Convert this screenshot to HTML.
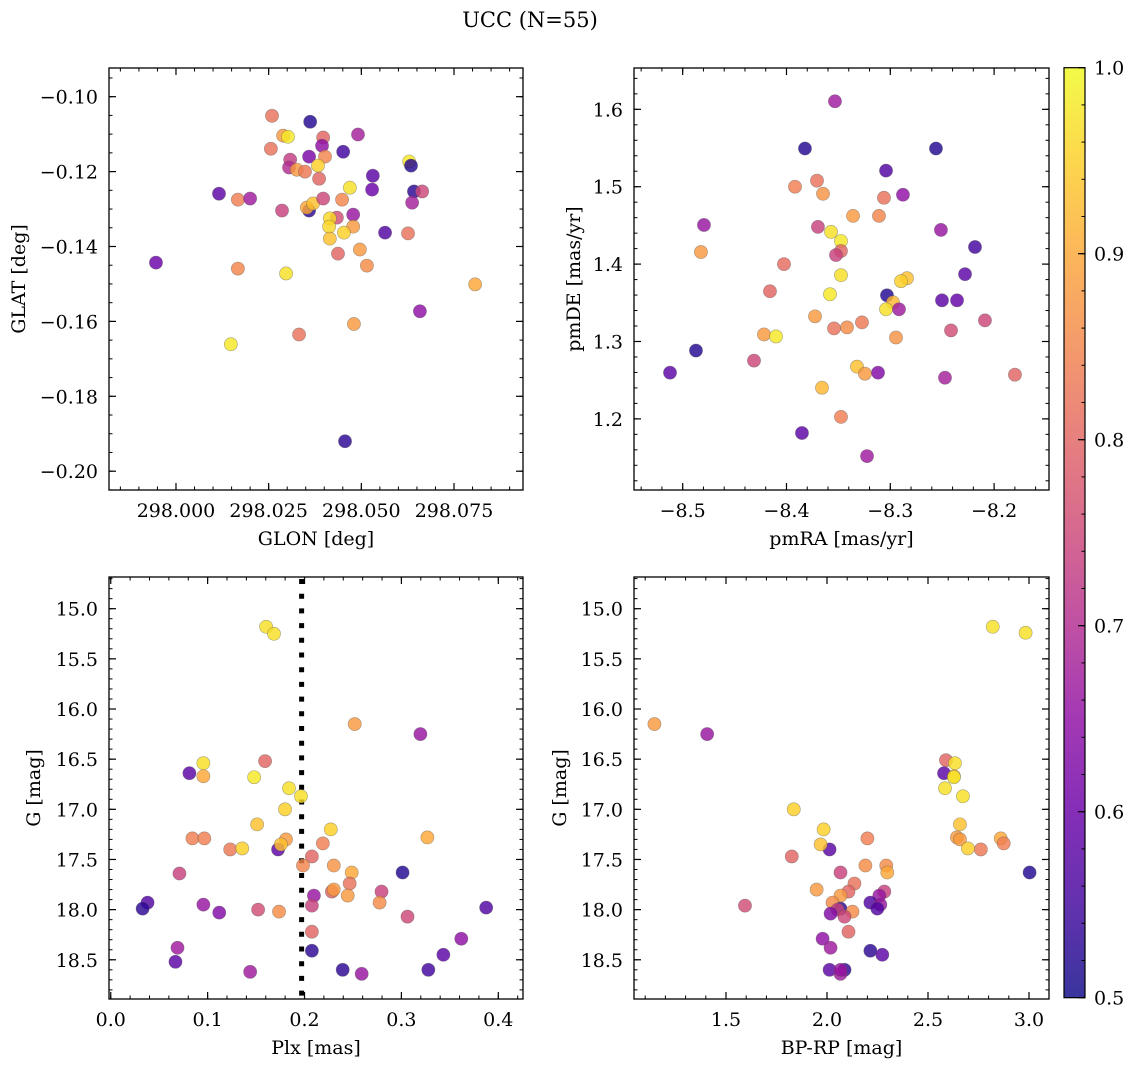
<!DOCTYPE html>
<html><head><meta charset="utf-8"><style>
html,body{margin:0;padding:0;background:#fff;}
svg{display:block;font-family:"DejaVu Serif","Liberation Serif",serif;}
</style></head><body>
<svg id="fig" width="1136" height="1067" viewBox="0 0 1136 1067" xmlns="http://www.w3.org/2000/svg">
<text x="530" y="27" font-size="21" text-anchor="middle">UCC (N=55)</text>
</svg>
<script>
// Panel 1: GLON vs GLAT
const glonVals=[298.0259,298.0362,298.0289,298.0302,298.0397,298.0491,298.0394,298.0451,298.0256,298.0308,298.0359,298.0402,298.0383,298.0305,298.0326,298.0348,298.0386,298.0469,298.0531,298.0529,298.0629,298.0634,298.0642,298.0664,298.0637,298.0116,298.0167,298.0200,298.0286,298.0359,298.0353,298.0370,298.0397,298.0448,298.0434,298.0478,298.0415,298.0413,298.0478,298.0453,298.0415,298.0564,298.0626,298.0437,298.0496,298.0515,297.9946,298.0167,298.0297,298.0807,298.0658,298.0480,298.0332,298.0148,298.0456];
const glatVals=[-0.1051,-0.1067,-0.1104,-0.1107,-0.1109,-0.1101,-0.1131,-0.1147,-0.1139,-0.1168,-0.1160,-0.1160,-0.1184,-0.1189,-0.1195,-0.1200,-0.1219,-0.1243,-0.1211,-0.1248,-0.1173,-0.1184,-0.1253,-0.1253,-0.1283,-0.1259,-0.1275,-0.1272,-0.1304,-0.1304,-0.1296,-0.1285,-0.1272,-0.1275,-0.1323,-0.1315,-0.1325,-0.1347,-0.1347,-0.1363,-0.1379,-0.1363,-0.1365,-0.1419,-0.1408,-0.1451,-0.1443,-0.1459,-0.1472,-0.1501,-0.1573,-0.1607,-0.1635,-0.1661,-0.1920];
const probP1=[0.82,0.52,0.88,0.98,0.8,0.68,0.65,0.55,0.82,0.73,0.62,0.85,0.95,0.7,0.88,0.83,0.8,0.97,0.58,0.6,0.98,0.52,0.53,0.75,0.68,0.58,0.84,0.67,0.74,0.53,0.9,0.93,0.75,0.85,0.76,0.66,0.96,0.96,0.88,0.95,0.93,0.57,0.82,0.8,0.88,0.86,0.6,0.85,0.97,0.9,0.65,0.88,0.82,0.98,0.53];
// Panel 2: pmRA vs pmDE
const pmraVals=[-8.3533,-8.3822,-8.2560,-8.3041,-8.3706,-8.3918,-8.3648,-8.3061,-8.2878,-8.3359,-8.3109,-8.4795,-8.3697,-8.3571,-8.3475,-8.3475,-8.3523,-8.2512,-8.2184,-8.4824,-8.4024,-8.3475,-8.2839,-8.2897,-8.2280,-8.4159,-8.3581,-8.3032,-8.2974,-8.3041,-8.2916,-8.2502,-8.2357,-8.3725,-8.3273,-8.2088,-8.3542,-8.3417,-8.2415,-8.4217,-8.4101,-8.2945,-8.4872,-8.4313,-8.5122,-8.3321,-8.3244,-8.3118,-8.2473,-8.1799,-8.3658,-8.3475,-8.3851,-8.3224];
const pmdeVals=[1.6104,1.5494,1.5494,1.5208,1.5078,1.5000,1.4909,1.4857,1.4896,1.4623,1.4623,1.4506,1.4481,1.4416,1.4299,1.4169,1.4117,1.4442,1.4221,1.4156,1.4000,1.3857,1.3818,1.3779,1.3870,1.3649,1.3610,1.3597,1.3506,1.3416,1.3416,1.3532,1.3532,1.3325,1.3247,1.3273,1.3169,1.3182,1.3143,1.3091,1.3065,1.3052,1.2883,1.2753,1.2597,1.2675,1.2584,1.2597,1.2532,1.2571,1.2403,1.2026,1.1818,1.1519];
const probP2=[0.67,0.52,0.52,0.57,0.82,0.84,0.87,0.82,0.65,0.88,0.85,0.66,0.74,0.97,0.98,0.8,0.74,0.66,0.55,0.88,0.81,0.97,0.93,0.95,0.58,0.8,0.98,0.52,0.92,0.97,0.67,0.58,0.59,0.88,0.83,0.75,0.82,0.86,0.76,0.88,0.98,0.87,0.52,0.75,0.58,0.93,0.88,0.63,0.68,0.8,0.92,0.84,0.58,0.67];
// Panel 3: Plx vs G
const plxVals=[0.1604,0.1685,0.2518,0.3196,0.1593,0.0956,0.0812,0.0956,0.1480,0.1840,0.1963,0.1799,0.1511,0.2271,0.3268,0.0843,0.0966,0.1809,0.2189,0.1233,0.1357,0.1727,0.1757,0.2076,0.1984,0.2302,0.3012,0.2487,0.0709,0.2466,0.2282,0.2302,0.2795,0.2446,0.2097,0.2775,0.0380,0.0329,0.0956,0.2076,0.1521,0.1737,0.1120,0.3875,0.3063,0.2076,0.3618,0.0689,0.2076,0.3433,0.0668,0.2394,0.3278,0.1439,0.2590];
const gmagP3=[15.18,15.25,16.15,16.25,16.52,16.54,16.64,16.67,16.68,16.79,16.87,17.00,17.15,17.20,17.28,17.29,17.29,17.30,17.34,17.40,17.39,17.40,17.35,17.47,17.56,17.56,17.63,17.63,17.64,17.74,17.82,17.80,17.82,17.86,17.86,17.93,17.93,17.99,17.95,17.96,18.00,18.02,18.03,17.98,18.07,18.22,18.29,18.38,18.41,18.45,18.52,18.60,18.60,18.62,18.64];
const probP3=[0.97,0.97,0.88,0.66,0.8,0.97,0.58,0.9,0.98,0.97,0.97,0.95,0.93,0.95,0.9,0.84,0.84,0.88,0.84,0.83,0.95,0.58,0.93,0.8,0.85,0.87,0.52,0.9,0.74,0.82,0.8,0.88,0.74,0.88,0.66,0.86,0.57,0.53,0.66,0.74,0.76,0.86,0.63,0.57,0.75,0.8,0.65,0.67,0.53,0.58,0.58,0.53,0.55,0.67,0.66];
const plxThreshold=0.197;
// Panel 4: BP-RP vs G
const bprpVals=[2.8206,2.9832,1.1458,1.4068,2.5891,2.6334,2.5793,2.6285,2.6285,2.5842,2.6729,1.8354,2.6581,1.9832,2.86,2.20,2.8748,2.6433,2.6581,2.7615,2.6975,2.0128,1.9684,1.8256,2.1901,2.2935,3.0029,2.2985,2.0669,2.1359,2.1064,1.9487,2.2837,2.0669,2.2591,2.0275,2.2147,2.0669,2.264,2.0522,1.594,2.1261,2.0177,2.2492,2.0867,2.1064,1.9783,2.0177,2.2147,2.2738,2.0128,2.0867,2.0669,2.0669];
const gmagP4=[15.18,15.24,16.15,16.25,16.51,16.54,16.64,16.67,16.68,16.79,16.87,17.00,17.15,17.20,17.29,17.29,17.34,17.28,17.30,17.40,17.39,17.40,17.35,17.47,17.56,17.56,17.63,17.63,17.63,17.74,17.82,17.80,17.82,17.86,17.86,17.93,17.93,17.99,17.95,18.00,17.96,18.02,18.04,17.99,18.07,18.22,18.29,18.38,18.41,18.45,18.60,18.60,18.64,18.60];
const probP4=[0.97,0.97,0.88,0.66,0.8,0.97,0.58,0.9,0.98,0.97,0.97,0.95,0.93,0.95,0.9,0.84,0.84,0.88,0.88,0.83,0.95,0.58,0.93,0.8,0.86,0.86,0.52,0.9,0.74,0.82,0.8,0.88,0.74,0.88,0.66,0.86,0.57,0.53,0.66,0.74,0.76,0.86,0.63,0.57,0.75,0.8,0.65,0.67,0.53,0.58,0.58,0.53,0.67,0.66];
// Tick labels
const p1xTicks=[298.000,298.025,298.050,298.075];
const p1yTicks=[-0.10,-0.12,-0.14,-0.16,-0.18,-0.20];
const p2xTicks=[-8.5,-8.4,-8.3,-8.2];
const p2yTicks=[1.2,1.3,1.4,1.5,1.6];
const p3xTicks=[0.0,0.1,0.2,0.3,0.4];
const gTicks=[15.0,15.5,16.0,16.5,17.0,17.5,18.0,18.5];
const p4xTicks=[1.5,2.0,2.5,3.0];
const cbTicks=[0.5,0.6,0.7,0.8,0.9,1.0];

const NS='http://www.w3.org/2000/svg';
const svg=document.getElementById('fig');
const FS=19;
function mk(tag,attrs,parent){const e=document.createElementNS(NS,tag);for(const k in attrs)e.setAttribute(k,attrs[k]);(parent||svg).appendChild(e);return e;}
const stops=[[13,8,135],[65,4,157],[106,0,168],[143,13,164],[177,42,144],[204,71,120],[225,100,98],[242,132,75],[252,166,54],[252,206,37],[240,249,33]];
function plasma(t){t=Math.max(0,Math.min(1,t));const f=t*10,i=Math.min(9,Math.floor(f)),r=f-i;const a=stops[i],b=stops[i+1];return 'rgb('+[0,1,2].map(k=>Math.round(a[k]+(b[k]-a[k])*r)).join(',')+')';}
function cmap(p){return plasma((p-0.5)/0.5);}
function fmt(v,d){const s=Math.abs(v).toFixed(d);return (v<-1e-9?'\u2212':'')+s;}

function panel(cfg){
  const g=mk('g',{});
  
  
  const sx=v=>cfg.x0+(v-cfg.xd[0])/(cfg.xd[1]-cfg.xd[0])*(cfg.x1-cfg.x0);
  const sy=v=>cfg.inv ? cfg.y0+(v-cfg.yd[0])/(cfg.yd[1]-cfg.yd[0])*(cfg.y1-cfg.y0) : cfg.y1-(v-cfg.yd[0])/(cfg.yd[1]-cfg.yd[0])*(cfg.y1-cfg.y0);
  if(cfg.vline!==undefined){
    const l=mk('line',{x1:sx(cfg.vline),x2:sx(cfg.vline),y1:cfg.y0+2,y2:cfg.y1,stroke:'#000','stroke-width':5,'stroke-dasharray':'5 9.7'},g);
    
    
  }
  for(let i=0;i<cfg.xs.length;i++){
    const c=mk('circle',{cx:sx(cfg.xs[i]),cy:sy(cfg.ys[i]),r:6.6,fill:cmap(cfg.ps[i]),'fill-opacity':0.82,stroke:'#555','stroke-opacity':0.5,'stroke-width':0.6},g);
    
    
  }
  const fr=mk('rect',{x:cfg.x0,y:cfg.y0,width:cfg.x1-cfg.x0,height:cfg.y1-cfg.y0,fill:'none',stroke:'#000','stroke-width':1.3},g);
  
  
  const eps=1e-9;
  for(let v=Math.ceil(cfg.xd[0]/cfg.xm-eps)*cfg.xm;v<=cfg.xd[1]+eps;v+=cfg.xm){const x=sx(v);
    mk('line',{x1:x,x2:x,y1:cfg.y1,y2:cfg.y1-3.5,stroke:'#000','stroke-width':1},g);
    mk('line',{x1:x,x2:x,y1:cfg.y0,y2:cfg.y0+3.5,stroke:'#000','stroke-width':1},g);}
  for(let v=Math.ceil(cfg.yd[0]/cfg.ym-eps)*cfg.ym;v<=cfg.yd[1]+eps;v+=cfg.ym){const y=sy(v);
    mk('line',{x1:cfg.x0,x2:cfg.x0+3.5,y1:y,y2:y,stroke:'#000','stroke-width':1},g);
    mk('line',{x1:cfg.x1,x2:cfg.x1-3.5,y1:y,y2:y,stroke:'#000','stroke-width':1},g);}
  cfg.xt.forEach(v=>{const x=sx(v);
    mk('line',{x1:x,x2:x,y1:cfg.y1,y2:cfg.y1-7,stroke:'#000','stroke-width':1.2},g);
    mk('line',{x1:x,x2:x,y1:cfg.y0,y2:cfg.y0+7,stroke:'#000','stroke-width':1.2},g);
    const t=mk('text',{x:x,y:cfg.y1+27,'font-size':FS,'text-anchor':'middle'},g);t.textContent=fmt(v,cfg.xdp);
    
    });
  cfg.yt.forEach(v=>{const y=sy(v);
    mk('line',{x1:cfg.x0,x2:cfg.x0+7,y1:y,y2:y,stroke:'#000','stroke-width':1.2},g);
    mk('line',{x1:cfg.x1,x2:cfg.x1-7,y1:y,y2:y,stroke:'#000','stroke-width':1.2},g);
    const t=mk('text',{x:cfg.x0-11,y:y+7,'font-size':FS,'text-anchor':'end'},g);t.textContent=fmt(v,cfg.ydp);
    
    });
  const xl=mk('text',{x:(cfg.x0+cfg.x1)/2,y:cfg.y1+55,'font-size':FS,'text-anchor':'middle'},g);xl.textContent=cfg.xlab;
  
  
  const yc=(cfg.y0+cfg.y1)/2;
  const yl=mk('text',{x:cfg.ylx,y:yc,'font-size':FS,'text-anchor':'middle',transform:'rotate(-90 '+cfg.ylx+' '+yc+')'},g);yl.textContent=cfg.ylab;
  
  
}
panel({name:'glon-glat-panel',x0:109,x1:523,y0:68,y1:490,xd:[297.98193,298.09361],yd:[-0.20502,-0.09234],xs:glonVals,ys:glatVals,ps:probP1,xt:p1xTicks,yt:p1yTicks,xm:0.005,ym:0.005,xdp:3,ydp:2,xlab:'GLON [deg]',ylab:'GLAT [deg]',ylx:25});
panel({name:'pm-panel',x0:634,x1:1049,y0:68,y1:490,xd:[-8.5469,-8.1471],yd:[1.1081,1.6534],xs:pmraVals,ys:pmdeVals,ps:probP2,xt:p2xTicks,yt:p2yTicks,xm:0.02,ym:0.02,xdp:1,ydp:1,xlab:'pmRA [mas/yr]',ylab:'pmDE [mas/yr]',ylx:580});
panel({name:'plx-g-panel',x0:109,x1:523,y0:577,y1:999,xd:[-0.0018,0.4255],yd:[14.684,18.891],inv:true,xs:plxVals,ys:gmagP3,ps:probP3,xt:p3xTicks,yt:gTicks,xm:0.02,ym:0.1,xdp:1,ydp:1,xlab:'Plx [mas]',ylab:'G [mag]',ylx:40,vline:plxThreshold});
panel({name:'cmd-panel',x0:634,x1:1049,y0:577,y1:999,xd:[1.0446,3.099],yd:[14.684,18.891],inv:true,xs:bprpVals,ys:gmagP4,ps:probP4,xt:p4xTicks,yt:gTicks,xm:0.1,ym:0.1,xdp:1,ydp:1,xlab:'BP-RP [mag]',ylab:'G [mag]',ylx:566});

// colorbar
const cb=mk('g',{});


const defs=mk('defs',{},cb);
const grad=mk('linearGradient',{id:'cbg',x1:0,y1:1,x2:0,y2:0},defs);
for(let i=0;i<=10;i++){mk('stop',{offset:i/10,'stop-color':plasma(i/10),'stop-opacity':0.82},grad);}
const cbx0=1064,cbx1=1085,cby0=67.7,cby1=997.7;
const cy=v=>cby1-(v-0.5)/0.5*(cby1-cby0);
const cr=mk('rect',{x:cbx0,y:cby0,width:cbx1-cbx0,height:cby1-cby0,fill:'url(#cbg)',stroke:'#000','stroke-width':1.2},cb);


for(let v=0.5;v<=1.0001;v+=0.02){const y=cy(v);mk('line',{x1:cbx1,x2:cbx1-3.5,y1:y,y2:y,stroke:'#000','stroke-width':1},cb);}
cbTicks.forEach(v=>{const y=cy(v);mk('line',{x1:cbx1,x2:cbx1-7,y1:y,y2:y,stroke:'#000','stroke-width':1.2},cb);
  const t=mk('text',{x:cbx1+9,y:y+7,'font-size':FS},cb);t.textContent=v.toFixed(1);
  
  });
</script>
</body></html>
